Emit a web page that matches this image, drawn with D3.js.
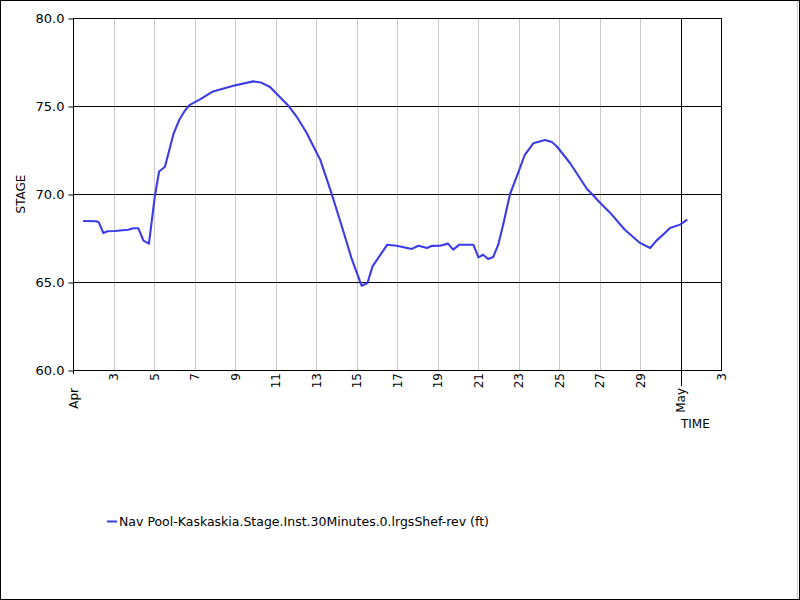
<!DOCTYPE html>
<html>
<head>
<meta charset="utf-8">
<script src="https://cdn.jsdelivr.net/npm/d3@7"></script>
<style>
  html, body { margin: 0; padding: 0; background: #fff; }
  svg { display: block; }
  text { font-family: "DejaVu Sans", Verdana, sans-serif; fill: #000; }
</style>
</head>
<body>
<svg id="chart" width="800" height="600"></svg>
<script>
// ---- data ----
const times = [
  "2024-04-01 12:00","2024-04-02 03:30","2024-04-02 06:30","2024-04-02 12:00","2024-04-02 17:00",
  "2024-04-03 01:30","2024-04-03 17:30","2024-04-03 23:30","2024-04-04 05:30","2024-04-04 11:30",
  "2024-04-04 18:00","2024-04-05 01:00","2024-04-05 06:00","2024-04-05 13:00","2024-04-05 23:00",
  "2024-04-06 06:00","2024-04-06 12:00","2024-04-06 18:00","2024-04-07 06:30","2024-04-07 22:00",
  "2024-04-08 22:00","2024-04-09 21:30","2024-04-10 06:30","2024-04-10 17:30","2024-04-11 15:00",
  "2024-04-12 01:00","2024-04-12 13:00","2024-04-12 21:00","2024-04-13 05:00","2024-04-13 18:30",
  "2024-04-14 06:30","2024-04-14 18:00","2024-04-15 06:00","2024-04-15 13:00","2024-04-15 19:00",
  "2024-04-16 12:30","2024-04-16 23:30","2024-04-17 17:30","2024-04-18 01:30","2024-04-18 11:30",
  "2024-04-18 17:00","2024-04-19 03:00","2024-04-19 12:30","2024-04-19 18:30","2024-04-20 02:00",
  "2024-04-20 18:30","2024-04-21 00:30","2024-04-21 06:00","2024-04-21 12:00","2024-04-21 18:00",
  "2024-04-22 00:00","2024-04-22 06:00","2024-04-22 14:00","2024-04-22 22:00","2024-04-23 07:30",
  "2024-04-23 17:30","2024-04-24 07:30","2024-04-24 15:30","2024-04-24 21:30","2024-04-25 13:00",
  "2024-04-26 09:00","2024-04-26 15:00","2024-04-26 23:30","2024-04-27 12:30","2024-04-28 06:00",
  "2024-04-29 00:00","2024-04-29 12:00","2024-04-29 19:30","2024-04-30 05:30","2024-04-30 11:30",
  "2024-04-30 23:30","2024-05-01 08:00"
];
const stage = [
  68.47, 68.45, 68.40, 67.78, 67.88,
  67.90, 67.97, 68.05, 68.05, 67.35,
  67.18, 69.86, 71.28, 71.55, 73.40,
  74.22, 74.69, 75.05, 75.38, 75.83,
  76.15, 76.40, 76.34, 76.08, 75.03,
  74.40, 73.47, 72.70, 71.95, 70.02,
  68.18, 66.36, 64.79, 64.94, 65.89,
  67.12, 67.06, 66.88, 67.06, 66.93,
  67.05, 67.06, 67.18, 66.84, 67.12,
  67.12, 66.40, 66.55, 66.31, 66.42,
  67.12, 68.30, 70.00, 71.00, 72.23,
  72.88, 73.07, 72.95, 72.70, 71.76,
  70.30, 70.00, 69.56, 68.94, 67.97,
  67.22, 66.93, 67.35, 67.78, 68.07,
  68.26, 68.54
];
const yTicks = [60, 65, 70, 75, 80];
const dayTickDates = ["2024-04-03","2024-04-05","2024-04-07","2024-04-09","2024-04-11","2024-04-13",
  "2024-04-15","2024-04-17","2024-04-19","2024-04-21","2024-04-23","2024-04-25","2024-04-27",
  "2024-04-29","2024-05-03"];
const monthTickDates = ["2024-04-01","2024-05-01"];
const xDomain = ["2024-04-01","2024-05-03"];
const yLabel = "STAGE";
const xLabel = "TIME";
const seriesName = "Nav Pool-Kaskaskia.Stage.Inst.30Minutes.0.lrgsShef-rev (ft)";

// ---- chart ----
const parseT = d3.timeParse("%Y-%m-%d %H:%M");
const parseD = d3.timeParse("%Y-%m-%d");
const data = times.map((t, i) => ({ t: parseT(t), v: stage[i] }));

const svg = d3.select("#chart");
const L = 73, R = 721, T = 18, B = 370;
const lineColor = "#3c3ce6";

const x = d3.scaleTime().domain(xDomain.map(parseD)).range([L, R]);
const y = d3.scaleLinear().domain([60, 80]).range([B, T]);

// outer frame
svg.append("rect").attr("x", 0.5).attr("y", 0.5).attr("width", 799).attr("height", 599)
  .attr("fill", "#fff").attr("stroke", "#000");
svg.append("line").attr("x1", 797.5).attr("x2", 797.5).attr("y1", 1).attr("y2", 599)
  .attr("stroke", "#d0d0d0");

// vertical grid (light)
const dayTicks = dayTickDates.map(parseD);
const monthTicks = monthTickDates.map(parseD);
svg.append("g").selectAll("line").data(dayTicks.slice(0, -1)).join("line")
  .attr("x1", d => Math.round(x(d)) + 0.5).attr("x2", d => Math.round(x(d)) + 0.5)
  .attr("y1", T).attr("y2", B).attr("stroke", "#c8c8c8").attr("stroke-width", 1);

// horizontal grid (black)
svg.append("g").selectAll("line").data(yTicks).join("line")
  .attr("x1", L).attr("x2", R)
  .attr("y1", d => Math.round(y(d)) + 0.5).attr("y2", d => Math.round(y(d)) + 0.5)
  .attr("stroke", "#000");

// month lines: May is black through the plot and extends below the axis
svg.append("g").selectAll("line").data(monthTicks).join("line")
  .attr("x1", d => Math.round(x(d)) + 0.5).attr("x2", d => Math.round(x(d)) + 0.5)
  .attr("y1", (d, i) => i === 0 ? B : T).attr("y2", (d, i) => i === 0 ? B + 4 : B + 16)
  .attr("stroke", "#000");

// plot border
svg.append("rect").attr("x", L + 0.5).attr("y", Math.round(T) + 0.5)
  .attr("width", R - L).attr("height", B - Math.round(T))
  .attr("fill", "none").attr("stroke", "#000");

// y axis ticks + labels
const yAxis = d3.axisLeft(y).tickValues(yTicks).tickFormat(d3.format(".1f")).tickSize(5).tickPadding(4);
const gy = svg.append("g").attr("transform", `translate(${L + 0.5},0.5)`).call(yAxis);
gy.select(".domain").remove();
gy.selectAll("text").style("font-size", "13px").style("font-family", "'DejaVu Sans', Verdana, sans-serif");
gy.selectAll("line").attr("stroke", "#000");

// x day labels
const dayFmt = d3.timeFormat("%-d");
svg.append("g").selectAll("text").data(dayTicks).join("text")
  .attr("transform", d => `translate(${x(d) + 0.5},${B + 3}) rotate(-90)`)
  .attr("text-anchor", "end").attr("dy", "0.35em").style("font-size", "12px")
  .text(d => dayFmt(d));

// x month labels
const monFmt = d3.timeFormat("%b");
svg.append("g").selectAll("text").data(monthTicks).join("text")
  .attr("transform", d => `translate(${x(d) + 0.5},${B + 18}) rotate(-90)`)
  .attr("text-anchor", "end").attr("dy", "0.35em").style("font-size", "12px")
  .text(d => monFmt(d));

// axis titles
svg.append("text").attr("transform", `translate(25,${(T + B) / 2}) rotate(-90)`)
  .attr("text-anchor", "middle").style("font-size", "12px").text(yLabel);
svg.append("text").attr("x", 681).attr("y", 428).style("font-size", "12px").text(xLabel);

// series line
const line = d3.line().x(d => x(d.t)).y(d => y(d.v)).curve(d3.curveLinear);
svg.append("path").datum(data).attr("d", line)
  .attr("fill", "none").attr("stroke", lineColor).attr("stroke-width", 2.1)
  .attr("stroke-linejoin", "round");

// legend
svg.append("line").attr("x1", 107).attr("x2", 117).attr("y1", 521.5).attr("y2", 521.5)
  .attr("stroke", lineColor).attr("stroke-width", 2);
svg.append("text").attr("x", 119).attr("y", 526).style("font-size", "12.5px").text(seriesName);
</script>
</body>
</html>
